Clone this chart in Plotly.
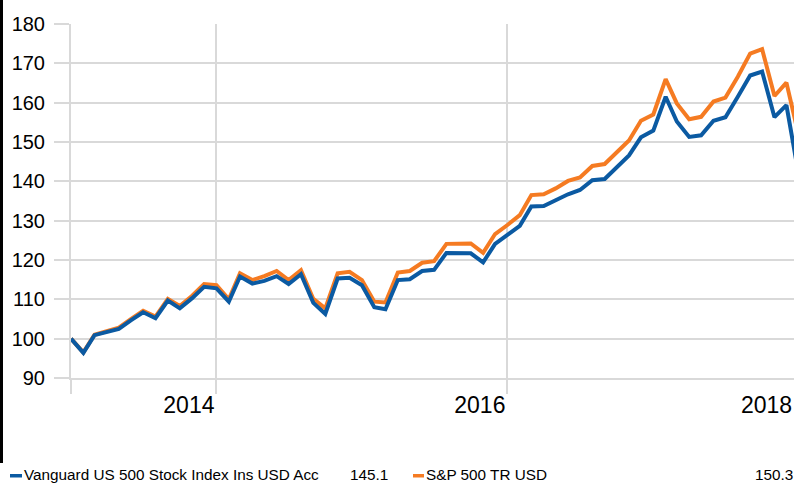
import pandas as pd
import plotly.graph_objects as go

# ---- data (monthly, indexed to 100) ----
start_month = "2013-01-01"
vanguard = [100.0, 96.4, 100.9, 101.8, 102.5, 104.7, 106.7, 105.2, 109.7, 107.7,
            110.3, 113.2, 112.8, 109.4, 115.8, 114.0, 114.7, 115.9, 113.9, 116.4,
            109.1, 106.3, 115.3, 115.5, 113.6, 108.0, 107.5, 114.9, 115.1, 117.2,
            117.5, 121.8, 121.7, 121.7, 119.4, 124.1, 126.4, 128.7, 133.6, 133.7,
            135.2, 136.7, 137.8, 140.3, 140.6, 143.7, 146.6, 151.2, 152.9, 161.5,
            155.2, 151.3, 151.7, 155.4, 156.3, 161.5, 166.9, 167.9, 156.3, 159.4,
            141.5]
sp500 = [100.0, 96.5, 101.0, 102.0, 102.8, 105.0, 107.1, 105.6, 110.1, 108.3,
         110.9, 113.9, 113.6, 110.0, 116.6, 114.9, 115.9, 117.2, 114.9, 117.4,
         110.1, 107.7, 116.6, 117.0, 114.9, 109.4, 109.2, 116.8, 117.2, 119.3,
         119.7, 124.1, 124.1, 124.2, 121.8, 126.6, 128.9, 131.4, 136.5, 136.7,
         138.2, 140.1, 141.0, 143.9, 144.4, 147.3, 150.4, 155.4, 157.0, 166.0,
         159.8, 155.8, 156.4, 160.3, 161.3, 166.6, 172.5, 173.6, 161.7, 165.1,
         151.5]
names = ["Vanguard US 500 Stock Index Ins USD Acc", "S&P 500 TR USD"]
final_values = ["145.1", "150.3"]
tick_dates = ["2013-01-01", "2014-01-01", "2016-01-01"]
tick_labels = ["", "2014", "2016"]
edge_label = "2018"   # its tick sits just past the cropped right edge
y_ticks = [90, 100, 110, 120, 130, 140, 150, 160, 170, 180]

dates = pd.date_range(start_month, periods=len(vanguard), freq="MS")

BLUE = "#0b5aa2"
ORANGE = "#f57b22"
GRID = "#d9d9d9"
FONT = "Liberation Sans, Arial, sans-serif"

W, H = 794, 483
L, R, T, B = 71, 0, 24, 105
PW, PH = W - L - R, H - T - B


def px_x(px):
    return (px - L) / PW


def px_y(py):
    return (H - B - py) / PH


fig = go.Figure()
fig.add_trace(go.Scatter(x=dates, y=sp500, mode="lines", name=names[1],
                         line=dict(color=ORANGE, width=4)))
fig.add_trace(go.Scatter(x=dates, y=vanguard, mode="lines", name=names[0],
                         line=dict(color=BLUE, width=4)))

fig.update_layout(
    width=W, height=H,
    margin=dict(l=L, r=R, t=T, b=B, pad=0),
    paper_bgcolor="white", plot_bgcolor="white",
    showlegend=False,
    font=dict(family=FONT, color="#000000"),
)
XFONT = dict(size=23, family=FONT, color="#000")
fig.update_xaxes(
    type="date", range=["2013-01-01", "2017-12-20"],
    tickvals=tick_dates, ticktext=tick_labels,
    ticks="outside", ticklen=14, tickwidth=2, tickcolor=GRID,
    showgrid=True, gridcolor=GRID, gridwidth=2,
    showline=True, linecolor=GRID, linewidth=2,
    ticklabelposition="outside left",
    ticklabelstandoff=5,
    tickfont=XFONT,
    zeroline=False,
)
fig.update_yaxes(
    range=[90, 180], tickvals=y_ticks,
    ticks="outside", ticklen=15, tickwidth=2, tickcolor=GRID,
    showgrid=True, gridcolor=GRID, gridwidth=2,
    showline=True, linecolor=GRID, linewidth=2,
    tickfont=dict(size=20, family=FONT, color="#000"),
    ticklabelstandoff=5,
    zeroline=False,
)

shapes = [
    # black edge bar at the left of the image
    dict(type="rect", xref="paper", yref="paper",
         x0=px_x(0), x1=px_x(3), y0=px_y(463), y1=px_y(0),
         fillcolor="#000000", line=dict(width=0), layer="above"),
    # legend swatches
    dict(type="rect", xref="paper", yref="paper",
         x0=px_x(10), x1=px_x(22), y0=px_y(477.5), y1=px_y(474),
         fillcolor=BLUE, line=dict(width=0)),
    dict(type="rect", xref="paper", yref="paper",
         x0=px_x(413), x1=px_x(424), y0=px_y(477.5), y1=px_y(474),
         fillcolor=ORANGE, line=dict(width=0)),
]
fig.update_layout(shapes=shapes)

# year label whose tick falls just beyond the visible right edge
fig.add_annotation(text=edge_label, xref="paper", yref="paper", x=px_x(794), y=px_y(405),
                   xanchor="right", yanchor="middle", showarrow=False, font=XFONT)

leg_font = dict(size=15.3, family=FONT, color="#000")
ly = px_y(475)
fig.add_annotation(text=names[0], xref="paper", yref="paper", x=px_x(22), y=ly,
                   xanchor="left", yanchor="middle", showarrow=False, font=leg_font)
fig.add_annotation(text=final_values[0], xref="paper", yref="paper", x=px_x(390), y=ly,
                   xanchor="right", yanchor="middle", showarrow=False, font=leg_font)
fig.add_annotation(text=names[1], xref="paper", yref="paper", x=px_x(424), y=ly,
                   xanchor="left", yanchor="middle", showarrow=False, font=leg_font)
fig.add_annotation(text=final_values[1], xref="paper", yref="paper", x=px_x(795), y=ly,
                   xanchor="right", yanchor="middle", showarrow=False, font=leg_font)

fig.write_html("out.html")
